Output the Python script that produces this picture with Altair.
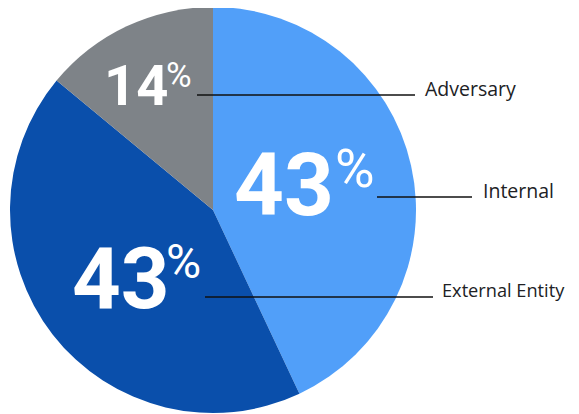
import altair as alt
import pandas as pd

categories = ["Internal", "External Entity", "Adversary"]
shares = [43, 43, 14]
colors = ["#519ff9", "#0a4fab", "#7e8388"]

df = pd.DataFrame({"category": categories, "share": shares,
                   "order": list(range(len(categories)))})

OFF = 8  # page margin


def px(v):
    return v - OFF


CX, CY, R = 213, 210, 203

# annotation layout (page pixel coordinates)
layout = {
    "Internal": dict(nx=234, ny=215, ns=87, qx=335, qy=187, qs=54,
                     l0=377, l1=472, ly=197, tx=483, ty=198, ts=19.5),
    "External Entity": dict(nx=72, ny=308, ns=85, qx=166, qy=278, qs=48,
                            l0=205, l1=433, ly=297, tx=442, ty=297, ts=18.2),
    "Adversary": dict(nx=104, ny=105, ns=56, qx=166, qy=87, qs=35,
                      l0=197, l1=415, ly=95, tx=425, ty=96, ts=19.5),
}

base = alt.Chart(df)

pie = base.mark_arc(radius=R).encode(
    theta=alt.Theta("share:Q", stack=True),
    color=alt.Color("category:N", scale=alt.Scale(domain=categories, range=colors), legend=None),
    order=alt.Order("order:Q"),
    x=alt.value(px(CX)),
    y=alt.value(px(CY)),
)

layers = [pie]
for cat in categories:
    L = layout[cat]
    sub = base.transform_filter(alt.datum.category == cat)
    layers.append(sub.mark_text(font="Roboto", fontWeight="bold", fontSize=L["ns"],
                                color="white", align="left", baseline="alphabetic").encode(
        text=alt.Text("share:Q"), x=alt.value(px(L["nx"])), y=alt.value(px(L["ny"]))))
    layers.append(sub.mark_text(font="Roboto", fontWeight="normal", fontSize=L["qs"],
                                color="white", align="left", baseline="alphabetic", text="%").encode(
        x=alt.value(px(L["qx"])), y=alt.value(px(L["qy"]))))
    layers.append(sub.mark_rule(color="#111111", strokeWidth=1.5).encode(
        x=alt.value(px(L["l0"])), x2=alt.value(px(L["l1"])), y=alt.value(px(L["ly"]))))
    layers.append(sub.mark_text(font="Open Sans", fontSize=L["ts"], color="#202124",
                                align="left", baseline="alphabetic").encode(
        text=alt.Text("category:N"), x=alt.value(px(L["tx"])), y=alt.value(px(L["ty"]))))

chart = alt.layer(*layers).properties(
    width=563, height=406, padding=0,
    autosize=alt.AutoSizeParams(type="none"),
).configure_view(stroke=None)

chart.save("out.html", embed_options={"renderer": "svg", "actions": False})
